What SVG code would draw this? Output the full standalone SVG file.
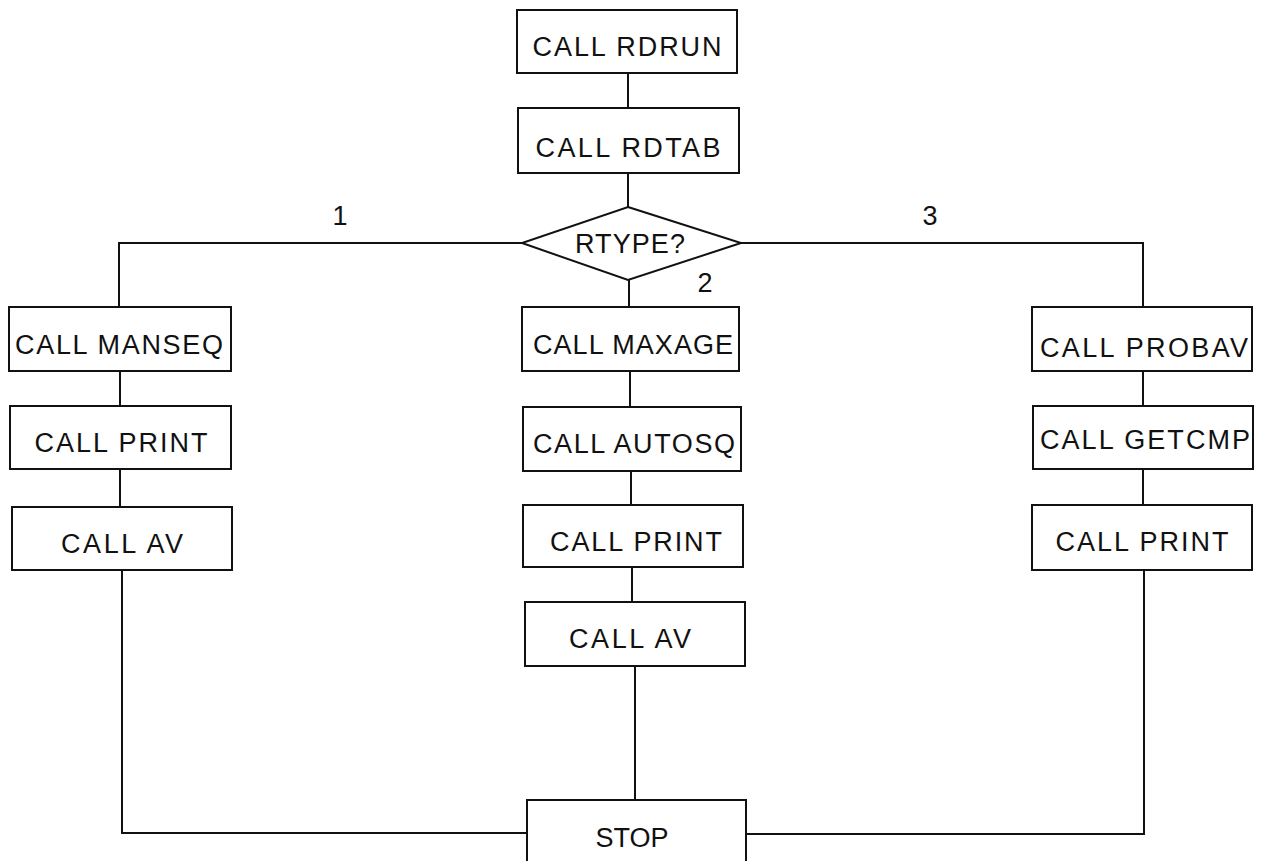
<svg xmlns="http://www.w3.org/2000/svg" width="1262" height="861" viewBox="0 0 1262 861">
<style>
.box{fill:#fff;stroke:#111;stroke-width:2}
.ln{fill:none;stroke:#111;stroke-width:2}
text{font-family:"Liberation Sans",Arial,sans-serif;font-size:27px;fill:#111;text-anchor:middle}
</style>
<rect width="1262" height="861" fill="#fff"/>
<g id="connectors">
<path class="ln" d="M628,73V108"/>
<path class="ln" d="M628,173V207"/>
<path class="ln" d="M522,243H119V307"/>
<path class="ln" d="M741,243H1143V307"/>
<path class="ln" d="M629,280V307"/>
<path class="ln" d="M120,371V406"/>
<path class="ln" d="M120,469V507"/>
<path class="ln" d="M122,570V833H527"/>
<path class="ln" d="M630,371V407"/>
<path class="ln" d="M631,471V505"/>
<path class="ln" d="M632,567V602"/>
<path class="ln" d="M635,666V800"/>
<path class="ln" d="M1143,371V406"/>
<path class="ln" d="M1143,469V505"/>
<path class="ln" d="M1144,570V834H746"/>
<text x="340" y="225">1</text>
<text x="705" y="292">2</text>
<text x="930" y="225">3</text>
</g>
<g id="rdrun"><rect class="box" x="517" y="10" width="220" height="63"/><text x="627" y="56" textLength="189" lengthAdjust="spacing">CALL RDRUN</text></g>
<g id="rdtab"><rect class="box" x="518" y="108" width="221" height="65"/><text x="628" y="157" textLength="185" lengthAdjust="spacing">CALL RDTAB</text></g>
<g id="rtype"><polygon class="box" points="628,207 741,243 628,280 522,243"/><text x="630" y="253" textLength="110" lengthAdjust="spacing">RTYPE?</text></g>
<g id="manseq"><rect class="box" x="9" y="307" width="222" height="64"/><text x="119" y="354" textLength="208" lengthAdjust="spacing">CALL MANSEQ</text></g>
<g id="print1"><rect class="box" x="10" y="406" width="221" height="63"/><text x="121" y="452" textLength="173" lengthAdjust="spacing">CALL PRINT</text></g>
<g id="av1"><rect class="box" x="12" y="507" width="220" height="63"/><text x="122" y="553" textLength="122" lengthAdjust="spacing">CALL AV</text></g>
<g id="maxage"><rect class="box" x="522" y="307" width="217" height="64"/><text x="633" y="354" textLength="200" lengthAdjust="spacing">CALL MAXAGE</text></g>
<g id="autosq"><rect class="box" x="523" y="407" width="218" height="64"/><text x="634" y="453" textLength="202" lengthAdjust="spacing">CALL AUTOSQ</text></g>
<g id="print2"><rect class="box" x="523" y="505" width="220" height="62"/><text x="636" y="551" textLength="172" lengthAdjust="spacing">CALL PRINT</text></g>
<g id="av2"><rect class="box" x="525" y="602" width="220" height="64"/><text x="630" y="648" textLength="122" lengthAdjust="spacing">CALL AV</text></g>
<g id="probav"><rect class="box" x="1032" y="307" width="220" height="64"/><text x="1144" y="357" textLength="208" lengthAdjust="spacing">CALL PROBAV</text></g>
<g id="getcmp"><rect class="box" x="1033" y="406" width="220" height="63"/><text x="1145" y="449" textLength="210" lengthAdjust="spacing">CALL GETCMP</text></g>
<g id="print3"><rect class="box" x="1032" y="505" width="220" height="65"/><text x="1142" y="551" textLength="173" lengthAdjust="spacing">CALL PRINT</text></g>
<g id="stop"><rect class="box" x="527" y="800" width="219" height="70"/><text x="632" y="847">STOP</text></g>
</svg>
